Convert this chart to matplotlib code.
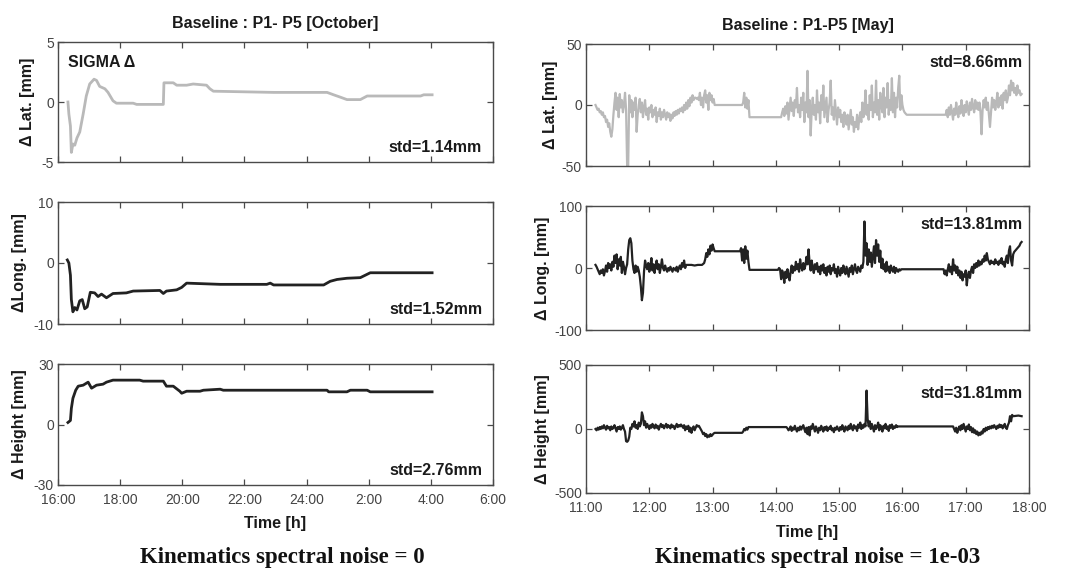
import matplotlib
matplotlib.use("Agg")
import matplotlib.pyplot as plt
import numpy as np

SANS = 'Liberation Sans'
SERIF = 'Liberation Serif'

# ---------------- October (left column), time in hours ----------------
oct_xticks = [16, 18, 20, 22, 24, 26, 28, 30]
oct_xticklabels = ['16:00', '18:00', '20:00', '22:00', '24:00', '2:00', '4:00', '6:00']

oct_lat_t = [16.32, 16.35, 16.40, 16.43, 16.48, 16.54, 16.61, 16.70, 16.81, 16.91, 17.02, 17.16,
             17.24, 17.34, 17.51, 17.61, 17.77, 17.88, 18.42, 18.53, 19.39, 19.41, 19.71, 19.82,
             20.14, 20.35, 20.78, 20.89, 21.00, 22.94, 24.66, 24.87, 25.09, 25.30, 25.73, 25.95,
             27.67, 27.77, 28.04]
oct_lat = [0.0, -1.0, -2.0, -4.2, -3.5, -3.6, -3.0, -2.5, -1.0, 0.5, 1.5, 1.9,
           1.8, 1.3, 1.1, 0.8, 0.1, -0.1, -0.1, -0.2, -0.2, 1.6, 1.6, 1.4,
           1.4, 1.5, 1.4, 1.1, 0.9, 0.8, 0.8, 0.6, 0.4, 0.2, 0.2, 0.5,
           0.5, 0.6, 0.6]

oct_long_t = [16.30, 16.35, 16.40, 16.43, 16.48, 16.54, 16.61, 16.70, 16.78, 16.86, 16.94, 17.04,
              17.18, 17.29, 17.40, 17.56, 17.77, 18.20, 18.42, 19.28, 19.39, 19.49, 19.82, 19.98,
              20.14, 21.22, 22.72, 22.83, 22.94, 24.55, 24.76, 24.98, 25.30, 25.73, 25.89, 26.05,
              28.04]
oct_long = [0.5, 0.0, -2.0, -6.0, -8.0, -7.3, -7.7, -6.2, -6.0, -7.5, -7.2, -4.8,
            -4.9, -5.5, -5.1, -5.7, -5.0, -4.9, -4.6, -4.5, -5.0, -4.6, -4.4, -4.0,
            -3.3, -3.5, -3.5, -3.3, -3.6, -3.6, -3.0, -2.7, -2.5, -2.4, -2.0, -1.6,
            -1.6]

oct_h_t = [16.32, 16.40, 16.43, 16.48, 16.57, 16.65, 16.81, 16.97, 17.08, 17.24, 17.45, 17.56,
           17.77, 18.63, 18.74, 19.39, 19.49, 19.71, 19.92, 19.98, 20.14, 20.57, 20.68, 21.22,
           21.32, 24.66, 24.71, 25.30, 25.41, 25.95, 26.05, 28.04]
oct_h = [1.0, 2.0, 8.0, 13.0, 17.0, 19.0, 19.5, 21.0, 18.0, 19.5, 20.0, 21.0,
         22.0, 22.0, 21.5, 21.5, 19.0, 19.0, 16.5, 15.5, 16.5, 16.5, 17.0, 17.5,
         17.0, 17.0, 16.2, 16.2, 17.0, 17.0, 16.2, 16.2]

# ---------------- May (right column), time in minutes after 11:00 ----------------
may_xticks = [11, 12, 13, 14, 15, 16, 17, 18]
may_xticklabels = ['11:00', '12:00', '13:00', '14:00', '15:00', '16:00', '17:00', '18:00']

may_lat_t = (list(range(9, 123)) + [148, 149, 150, 151, 152, 153, 154, 155, 185]
             + list(range(186, 303)) + [304, 341] + list(range(342, 414)))
may_lat = [0, -2, -4, -3, -6, -5, -8, -6, -10, -9, -14, -12, -18, -15, -22, -26, -20, -8, 2, 10,
           -4, 6, -10, 9, -2, 4, -6, 0, 10, -4, -50, -50, 8, -6, 4, -10, 2, -4, 6, -22,
           -8, 0, 5, -6, 2, -10, -2, 4, -8, -3, -12, -2, -6, 0, -10, -4, -8, -2, -14, -6,
           -9, -3, -12, -6, -10, -4, -8, -12, -6, -10, -7, -13, -8, -11, -6, -9, -5, -8, -4, -7,
           -3, -5, -2, -6, 0, -4, 2, -3, 4, -1, 6, 2, 8, 4, 6, 6, 5, 6, 4, 10,
           0, 6, -2, 8, 12, 2, 8, -4, 10, 4, 8, 2, 5, 0,
           0, 2, 10, -2, 6, -3, 4, -10, -10,
           -6, -3, -9, -1, -7, 2, -12, -3, 6, -5, 2, -9, 4, -2, 14, -6, 0, -10, 6, -4,
           10, -14, 2, -6, 28, -10, 4, -25, -4, 6, -8, 0, -12, 12, -6, 2, -15, 8, -4, 16,
           -10, -2, 6, -14, -4, 2, 20, -8, -2, -12, 4, -6, -16, -2, -10, -4, -14, -8, -18, -6,
           -12, -16, -8, -20, -12, -4, -16, -10, -22, -14, -18, -8, -20, -12, -6, -14, 2, -10, -4, 12,
           -8, 0, -12, 8, -4, 16, -10, 2, -6, 20, -8, 4, -12, 10, 0, -6, 14, -10, 6, -2,
           18, -8, 4, -4, 22, -6, 10, -10, 6, -2, 14, 24, -4, 8, 0, -4, -6,
           -8, -8,
           -4, -10, -2, -8, 0, -6, -12, -3, -8, 2, -6, -10, -1, -7, 4, -4, -9, 0, -6, 3,
           -3, -8, 2, -4, 5, -2, -6, 4, -3, 2, -4, 2, -6, -24, -4, 4, -2, 6, -4, 2,
           -8, -18, -6, 6, -2, 4, -4, 2, 10, -2, 6, 0, 8, -3, 10, 4, 12, 2, 6, 16,
           8, 20, 12, 18, 10, 14, 8, 16, 10, 12, 8, 9]

may_long_t = (list(range(9, 96)) + [100, 103, 106, 110, 112] + list(range(113, 123)) + [146]
              + list(range(147, 156)) + [182] + list(range(183, 300)) + [301, 339]
              + list(range(340, 414)))
may_long = [5, 2, -2, -6, -10, -4, -8, -2, -12, -5, 4, -6, 8, 0, 6, -4, 10, 2, 20, 8,
            22, -2, 14, 4, 18, -8, 10, 2, -10, 0, 6, 30, 45, 48, 40, 12, -2, -8, 4, -6,
            2, -4, -14, -30, -52, -40, -6, 12, 4, -2, 8, -6, 2, 16, -4, 6, -8, 4, 12, -2,
            6, -8, 2, 14, 0, -4, 4, -2, -6, 0, -4, 2, -2, -6, 0, -2, -4, 2, -6, 0,
            4, -2, 8, 2, 12, 0, 5,
            5, 4, 5, 5, 8,
            14, 24, 18, 30, 22, 36, 28, 38, 32, 27, 27,
            32, 12, 30, 8, 35, 15, 28, 10, -3, -3,
            0, -2, -18, -4, -10, -24, -6, -16, -2, -12, -20, -6, 4, -8, 2, -4, 10, -2, 6, -6,
            14, 2, -4, 8, -2, 4, 18, 6, 30, 8, -4, 12, 0, -8, 6, -2, 8, -6, 2, -10,
            4, -4, 6, -8, 0, -12, 2, -6, 4, -10, 0, -4, 6, -8, -2, -14, 2, -6, -12, 0,
            -8, 4, -4, -10, 2, -6, -14, 0, -6, 4, -10, -2, 6, -4, -8, 2, -2, -6, 4, 0,
            10, 75, 20, 40, 5, 30, 10, 25, 2, 18, 35, 8, 45, 20, 38, 10, 28, 0, 15, -2,
            6, -6, 10, -4, 2, -8, 4, -2, -6, 2, -8, 0, -4, -6, -2, -4, -2,
            -2, -2,
            -10, -4, -12, -2, 6, -6, 2, -10, 14, -4, 4, -8, 2, -12, -4, -16, -6, -20, -10, -14,
            -4, -28, -12, -6, -16, -4, 2, -8, 6, 0, 8, 2, 12, 4, 10, 6, 14, 10, 20, 12,
            24, 14, 10, 6, 12, 8, 10, 6, 14, 8, 10, 5, 12, 8, 16, 6, 10, 2, 14, 20,
            8, 28, 35, 12, 4, 22, 26, 28, 30, 32, 34, 36, 40, 42]

may_h_t = (list(range(9, 123)) + [148, 149, 150, 151, 152, 153, 154, 155, 190]
           + list(range(191, 298)) + [348] + list(range(349, 406)) + [410, 413])
may_h = [0, -10, 10, -5, 15, 0, 20, 5, 30, 10, -5, 25, 5, 15, -10, 20, 0, 10, 30, 5,
         -20, 15, 0, 20, -5, 10, 30, 0, -20, -95, -100, -90, -60, 10, 0, 40, 20, 60, 10, 30,
         0, 50, 20, 40, 130, 100, 30, 60, 10, 40, 20, 0, 30, 10, 40, 20, 5, 35, 10, 25,
         -5, 20, 40, 15, 30, 5, 25, 40, 10, 30, 20, 5, 35, 15, 25, 0, 20, 40, 15, 30,
         20, 35, 25, 10, 30, -10, 20, 0, 25, -20, 10, -30, 5, 20, -10, 10, 30, 20, 25, 10,
         -5, -20, -40, -30, -55, -40, -65, -50, -60, -40, -55, -45, -35, -30,
         -30, -20, 0, -10, 10, -5, 15, 15, 15,
         5, -10, 0, 20, -15, 10, -5, 25, 0, -20, 10, -10, 20, -5, 15, 30, 0, -25, 10, -40,
         15, -50, 20, 0, 40, 10, -20, 20, 0, -30, 10, -10, 25, 0, -20, 15, -5, 20, -15, 10,
         0, 25, -10, 5, -25, 10, -5, 20, 0, -15, 15, -5, 30, 0, -20, 20, 5, -10, 25, 0,
         40, 10, -10, 30, 5, 20, -15, 35, 10, 50, 0, 30, 10, 40, 20, 300, 80, 20, 60, 0,
         40, 10, -20, 30, 0, 20, 50, -10, 30, 10, -20, 25, 5, 40, 0, 20, -15, 30, 10, 35,
         0, 20, 10, 30, 15, 20, 20,
         20,
         0, -20, 10, -30, 0, 20, -10, 30, 0, 40, 10, -20, 20, 0, 35, -10, 15, -25, 5, -30,
         -10, -40, -20, -50, -30, -45, -20, -35, 0, -20, 10, -10, 15, 0, 20, 5, 25, 10, 30, 15,
         0, 25, 10, 35, 15, 30, 5, 20, 40, 10, 0, 30, 50, 100, 60, 110, 100,
         105, 100]

GRAY = '#b9b9b9'
DARK = '#222222'
SPINE = '#4a4a4a'
TICKC = '#444444'

fig = plt.figure(figsize=(10.67, 5.75), dpi=100)
fig.patch.set_facecolor('white')

W, H = 1067.0, 575.0
def add_ax(x0, x1, y0, y1):
    return fig.add_axes([x0 / W, 1 - y1 / H, (x1 - x0) / W, (y1 - y0) / H])

left_boxes = [(42, 162), (202, 324), (364, 485)]
right_boxes = [(44, 166), (206, 330), (365, 493)]
right_std_y = [0.85, 0.85, 0.78]

oct_series = [(oct_lat_t, oct_lat, GRAY, (-5, 5), [-5, 0, 5], 'Δ Lat. [mm]', 'std=1.14mm'),
              (oct_long_t, oct_long, DARK, (-10, 10), [-10, 0, 10], 'ΔLong. [mm]', 'std=1.52mm'),
              (oct_h_t, oct_h, DARK, (-30, 30), [-30, 0, 30], 'Δ Height [mm]', 'std=2.76mm')]
may_series = [(may_lat_t, may_lat, GRAY, (-50, 50), [-50, 0, 50], 'Δ Lat. [mm]', 'std=8.66mm'),
              (may_long_t, may_long, DARK, (-100, 100), [-100, 0, 100], 'Δ Long. [mm]', 'std=13.81mm'),
              (may_h_t, may_h, DARK, (-500, 500), [-500, 0, 500], 'Δ Height [mm]', 'std=31.81mm')]

lab_font = dict(family=SANS, weight='bold', size=11.5, color='#1a1a1a')
tick_font = dict(family=SANS, size=10)

def style(ax, ylim, yticks, xlim, xticks, xlabels, show_x):
    ax.set_ylim(*ylim)
    ax.set_xlim(*xlim)
    ax.set_yticks(yticks)
    ax.set_xticks(xticks)
    ax.tick_params(direction='in', top=True, right=True, length=4, width=0.9,
                   color=SPINE, labelcolor=TICKC)
    ax.tick_params(axis='y', pad=3)
    ax.tick_params(axis='x', pad=6)
    for s in ax.spines.values():
        s.set_color(SPINE)
        s.set_linewidth(1.0)
    ax.set_yticklabels([str(v) for v in yticks], **tick_font)
    if show_x:
        ax.set_xticklabels(xlabels, **tick_font)
    else:
        ax.set_xticklabels([])

for i, (t, v, c, ylim, yt, ylab, std) in enumerate(oct_series):
    y0, y1 = left_boxes[i]
    ax = add_ax(58, 493, y0, y1)
    ax.plot(t, v, color=c, lw=2.0)
    style(ax, ylim, yt, (16, 30), oct_xticks, oct_xticklabels, i == 2)
    ax.set_ylabel(ylab, labelpad=5, **lab_font)
    ax.text(0.975, 0.06, std, transform=ax.transAxes, ha='right', va='bottom', **lab_font)
    if i == 0:
        ax.text(0.024, 0.83, 'SIGMA Δ', transform=ax.transAxes, ha='left', va='center',
                family=SANS, weight='bold', size=11.5, color='#1a1a1a')
        ax.set_title('Baseline : P1- P5 [October]', pad=10, **lab_font)
    if i == 2:
        ax.set_xlabel('Time [h]', labelpad=6, **lab_font)

for i, (t, v, c, ylim, yt, ylab, std) in enumerate(may_series):
    y0, y1 = right_boxes[i]
    ax = add_ax(586, 1029, y0, y1)
    th = [11 + m / 60.0 for m in t]
    ax.plot(th, v, color=c, lw=1.6)
    style(ax, ylim, yt, (11, 18), may_xticks, may_xticklabels, i == 2)
    ax.set_ylabel(ylab, labelpad=3, **lab_font)
    ax.text(0.985, right_std_y[i], std, transform=ax.transAxes, ha='right', va='center', **lab_font)
    if i == 0:
        ax.set_title('Baseline : P1-P5 [May]', pad=10, **lab_font)
    if i == 2:
        ax.set_xlabel('Time [h]', labelpad=7, **lab_font)

fig.text(282 / W, 1 - 558 / H, 'Kinematics spectral noise = 0', ha='center', va='center',
         family=SERIF, weight='bold', size=16.5, color='#111111')
fig.text(818 / W, 1 - 558 / H, 'Kinematics spectral noise = 1e-03', ha='center', va='center',
         family=SERIF, weight='bold', size=16.5, color='#111111')

fig.savefig('out.png', dpi=100, facecolor='white')
